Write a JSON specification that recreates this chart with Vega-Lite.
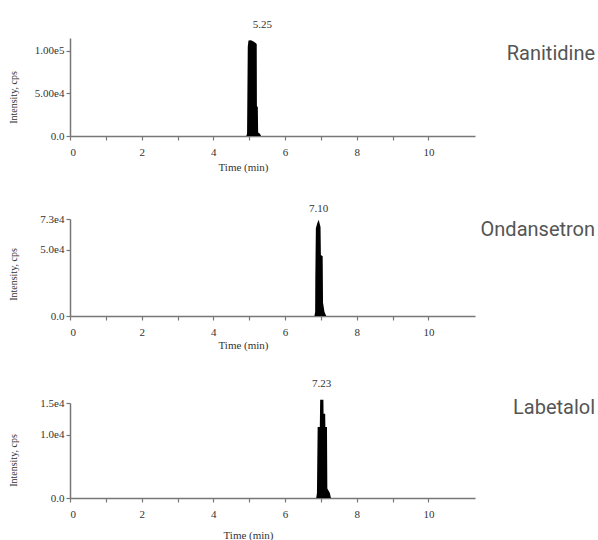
{
  "$schema": "https://vega.github.io/schema/vega-lite/v6.json",
  "padding": {"left": 7, "top": 19, "right": 0, "bottom": 0},
  "background": "white",
  "config": {
    "view": {"stroke": null},
    "font": "Liberation Serif",
    "axis": {
      "labelFont": "Liberation Serif", "titleFont": "Liberation Serif",
      "labelFontSize": 11, "titleFontSize": 11, "titleFontWeight": "normal",
      "labelColor": "#333", "titleColor": "#333",
      "domainColor": "#777", "tickColor": "#777", "domainWidth": 1.5, "tickWidth": 1.2,
      "grid": false
    },
    "text": {"font": "Liberation Serif", "fontSize": 11, "color": "#333"}
  },
  "datasets": {
    "peaks": [
      {"compound": "Ranitidine", "time": 4.92, "intensity": 0},
      {"compound": "Ranitidine", "time": 4.94, "intensity": 3000},
      {"compound": "Ranitidine", "time": 4.96, "intensity": 105000},
      {"compound": "Ranitidine", "time": 4.98, "intensity": 112000},
      {"compound": "Ranitidine", "time": 5.05, "intensity": 112500},
      {"compound": "Ranitidine", "time": 5.12, "intensity": 111000},
      {"compound": "Ranitidine", "time": 5.18, "intensity": 109000},
      {"compound": "Ranitidine", "time": 5.21, "intensity": 108000},
      {"compound": "Ranitidine", "time": 5.215, "intensity": 35000},
      {"compound": "Ranitidine", "time": 5.24, "intensity": 34000},
      {"compound": "Ranitidine", "time": 5.25, "intensity": 4000},
      {"compound": "Ranitidine", "time": 5.3, "intensity": 2500},
      {"compound": "Ranitidine", "time": 5.33, "intensity": 0},
      {"compound": "Ondansetron", "time": 6.82, "intensity": 0},
      {"compound": "Ondansetron", "time": 6.84, "intensity": 3000},
      {"compound": "Ondansetron", "time": 6.845, "intensity": 30000},
      {"compound": "Ondansetron", "time": 6.86, "intensity": 66000},
      {"compound": "Ondansetron", "time": 6.9, "intensity": 70000},
      {"compound": "Ondansetron", "time": 6.94, "intensity": 72500},
      {"compound": "Ondansetron", "time": 6.97, "intensity": 69000},
      {"compound": "Ondansetron", "time": 6.99, "intensity": 67000},
      {"compound": "Ondansetron", "time": 7.0, "intensity": 46000},
      {"compound": "Ondansetron", "time": 7.05, "intensity": 45000},
      {"compound": "Ondansetron", "time": 7.06, "intensity": 10000},
      {"compound": "Ondansetron", "time": 7.1, "intensity": 3000},
      {"compound": "Ondansetron", "time": 7.15, "intensity": 0},
      {"compound": "Labetalol", "time": 6.87, "intensity": 0},
      {"compound": "Labetalol", "time": 6.89, "intensity": 800},
      {"compound": "Labetalol", "time": 6.91, "intensity": 11200},
      {"compound": "Labetalol", "time": 6.97, "intensity": 11200},
      {"compound": "Labetalol", "time": 6.98, "intensity": 15500},
      {"compound": "Labetalol", "time": 7.07, "intensity": 15500},
      {"compound": "Labetalol", "time": 7.075, "intensity": 13300},
      {"compound": "Labetalol", "time": 7.12, "intensity": 13300},
      {"compound": "Labetalol", "time": 7.125, "intensity": 11200},
      {"compound": "Labetalol", "time": 7.17, "intensity": 11200},
      {"compound": "Labetalol", "time": 7.18, "intensity": 1500},
      {"compound": "Labetalol", "time": 7.25, "intensity": 800},
      {"compound": "Labetalol", "time": 7.28, "intensity": 0}
    ],
    "apex": [
      {"compound": "Ranitidine", "time": 5.03, "intensity": 112500, "rt": "5.25"},
      {"compound": "Ondansetron", "time": 6.94, "intensity": 72500, "rt": "7.10"},
      {"compound": "Labetalol", "time": 7.02, "intensity": 15500, "rt": "7.23"}
    ]
  },
  "vconcat": [
    {
      "spacing": 30,
      "vconcat": [
        {
          "width": 405, "height": 98,
          "layer": [
            {
              "data": {"name": "peaks"},
              "transform": [{"filter": "datum.compound === 'Ranitidine'"}],
              "mark": {"type": "area", "color": "black"},
              "encoding": {
                "x": {"field": "time", "type": "quantitative", "scale": {"domain": [0, 11.3], "nice": false},
                  "axis": {"title": "Time (min)", "values": [0,1,2,3,4,5,6,7,8,9,10], "labelExpr": "datum.value % 2 === 0 ? datum.label : ''", "tickSize": 4, "labelPadding": 6, "titleX": 173, "titleY": 31, "titleBaseline": "middle"}},
                "y": {"field": "intensity", "type": "quantitative", "scale": {"domain": [0, 115000], "nice": false},
                  "axis": {"title": "Intensity, cps", "values": [0, 50000, 100000], "labelExpr": "datum.value === 0 ? '0.0' : datum.value === 50000 ? '5.00e4' : '1.00e5'", "tickSize": 4, "labelPadding": 2, "titleFontSize": 10, "titleX": -57, "titleY": 59, "titleAngle": -90, "titleBaseline": "middle", "titleAlign": "center"}}
              }
            },
            {
              "data": {"name": "apex"},
              "transform": [{"filter": "datum.compound === 'Ranitidine'"}],
              "mark": {"type": "text", "dy": -15, "dx": 12, "baseline": "middle"},
              "encoding": {
                "x": {"field": "time", "type": "quantitative"},
                "y": {"field": "intensity", "type": "quantitative"},
                "text": {"field": "rt"}
              }
            },
            {
              "data": {"values": [{"compound": "Ranitidine"}]},
              "mark": {"type": "text", "font": "Roboto", "fontSize": 20, "align": "right", "baseline": "middle", "color": "#555555"},
              "encoding": {
                "x": {"datum": 14.65, "type": "quantitative"},
                "y": {"datum": 96000, "type": "quantitative"},
                "text": {"field": "compound"}
              }
            }
          ]
        },
        {
          "width": 405, "height": 97,
          "layer": [
            {
              "data": {"name": "peaks"},
              "transform": [{"filter": "datum.compound === 'Ondansetron'"}],
              "mark": {"type": "area", "color": "black"},
              "encoding": {
                "x": {"field": "time", "type": "quantitative", "scale": {"domain": [0, 11.3], "nice": false},
                  "axis": {"title": "Time (min)", "values": [0,1,2,3,4,5,6,7,8,9,10], "labelExpr": "datum.value % 2 === 0 ? datum.label : ''", "tickSize": 4, "labelPadding": 6, "titleX": 173, "titleY": 29, "titleBaseline": "middle"}},
                "y": {"field": "intensity", "type": "quantitative", "scale": {"domain": [0, 73000], "nice": false},
                  "axis": {"title": "Intensity, cps", "values": [0, 50000, 73000], "labelExpr": "datum.value === 0 ? '0.0' : datum.value === 50000 ? '5.0e4' : '7.3e4'", "tickSize": 4, "labelPadding": 2, "titleFontSize": 10, "titleX": -57, "titleY": 55, "titleAngle": -90, "titleBaseline": "middle", "titleAlign": "center"}}
              }
            },
            {
              "data": {"name": "apex"},
              "transform": [{"filter": "datum.compound === 'Ondansetron'"}],
              "mark": {"type": "text", "dy": -11, "baseline": "middle"},
              "encoding": {
                "x": {"field": "time", "type": "quantitative"},
                "y": {"field": "intensity", "type": "quantitative"},
                "text": {"field": "rt"}
              }
            },
            {
              "data": {"values": [{"compound": "Ondansetron"}]},
              "mark": {"type": "text", "font": "Roboto", "fontSize": 20, "align": "right", "baseline": "middle", "color": "#555555"},
              "encoding": {
                "x": {"datum": 14.65, "type": "quantitative"},
                "y": {"datum": 64722, "type": "quantitative"},
                "text": {"field": "compound"}
              }
            }
          ]
        }
      ]
    },
    {
      "width": 405, "height": 95,
      "layer": [
        {
          "data": {"name": "peaks"},
          "transform": [{"filter": "datum.compound === 'Labetalol'"}],
          "mark": {"type": "area", "color": "black"},
          "encoding": {
            "x": {"field": "time", "type": "quantitative", "scale": {"domain": [0, 11.3], "nice": false},
              "axis": {"title": "Time (min)", "values": [0,1,2,3,4,5,6,7,8,9,10], "labelExpr": "datum.value % 2 === 0 ? datum.label : ''", "tickSize": 4, "labelPadding": 6, "titleX": 178, "titleY": 37, "titleBaseline": "middle"}},
            "y": {"field": "intensity", "type": "quantitative", "scale": {"domain": [0, 15000], "nice": false},
              "axis": {"title": "Intensity, cps", "values": [0, 10000, 15000], "labelExpr": "datum.value === 0 ? '0.0' : datum.value === 10000 ? '1.0e4' : '1.5e4'", "tickSize": 4, "labelPadding": 2, "titleFontSize": 10, "titleX": -57, "titleY": 57, "titleAngle": -90, "titleBaseline": "middle", "titleAlign": "center"}}
          }
        },
        {
          "data": {"name": "apex"},
          "transform": [{"filter": "datum.compound === 'Labetalol'"}],
          "mark": {"type": "text", "dy": -16, "baseline": "middle"},
          "encoding": {
            "x": {"field": "time", "type": "quantitative"},
            "y": {"field": "intensity", "type": "quantitative"},
            "text": {"field": "rt"}
          }
        },
        {
          "data": {"values": [{"compound": "Labetalol"}]},
          "mark": {"type": "text", "font": "Roboto", "fontSize": 20, "align": "right", "baseline": "middle", "color": "#555555"},
          "encoding": {
            "x": {"datum": 14.65, "type": "quantitative"},
            "y": {"datum": 14210, "type": "quantitative"},
            "text": {"field": "compound"}
          }
        }
      ]
    }
  ],
  "spacing": 27
}
